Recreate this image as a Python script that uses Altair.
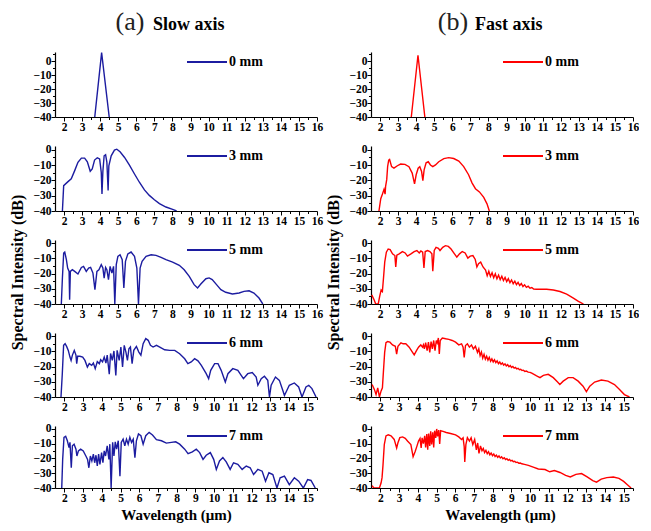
import altair as alt
import pandas as pd

BLUE = "#1c1ca0"
RED = "#ff0000"
FONT = "Liberation Serif"

# ---------------- data (wavelength um, intensity dB) ----------------
slow_0mm = [(3.7, -40), (4.08, 6), (4.5, -40)]
fast_0mm = [(3.73, -40), (4.1, 4.2), (4.48, -40)]

slow_3mm = [(1.91, -40), (1.98, -23.4), (2.22, -20.8), (2.4, -19), (2.59, -13.6), (2.77, -8.2),
            (2.96, -5.4), (3.14, -5.4), (3.29, -7.8), (3.45, -14), (3.56, -12.5), (3.69, -6.7),
            (3.84, -5.2), (3.97, -6), (4.06, -14.7), (4.1, -28.8), (4.15, -14), (4.22, -3.9),
            (4.3, -3.2), (4.37, -8), (4.44, -26.6), (4.48, -10.4), (4.61, -3.9), (4.79, -0.2),
            (4.92, 0.4), (5.1, -1.3), (5.35, -5), (5.62, -10), (5.9, -15.8), (6.17, -21.2),
            (6.45, -26.2), (6.72, -29.8), (7.0, -32.6), (7.28, -35.2), (7.64, -37.4), (8.01, -38.9),
            (8.23, -40)]

fast_3mm = [(1.94, -40), (2.04, -32), (2.13, -29), (2.22, -25.8), (2.28, -29), (2.31, -23.7),
            (2.37, -19.5), (2.42, -11), (2.48, -6.8), (2.53, -6.3), (2.64, -11), (2.77, -12),
            (2.96, -10.4), (3.14, -9.3), (3.38, -9.5), (3.6, -11), (3.78, -15.2), (3.91, -22.2),
            (4.0, -16.3), (4.11, -12), (4.2, -11), (4.3, -14.2), (4.37, -20.1), (4.44, -13.1),
            (4.55, -8.5), (4.67, -7.8), (4.79, -9.9), (4.92, -11), (5.07, -9.9), (5.25, -7.8),
            (5.53, -5.7), (5.8, -5.1), (6.08, -5.7), (6.36, -7.4), (6.63, -11), (6.9, -16.3),
            (7.09, -21.6), (7.28, -25.4), (7.5, -27.5), (7.74, -31.1), (7.92, -35.3), (8.05, -40)]

slow_5mm = [(1.85, -40), (1.91, -22.9), (1.98, -6.6), (2.04, -5.9), (2.13, -10.9), (2.2, -16.4),
            (2.28, -18.6), (2.31, -37.2), (2.35, -18.6), (2.46, -17.5), (2.59, -18.6), (2.77, -20.3),
            (2.96, -16), (3.08, -15.3), (3.23, -18.6), (3.36, -16.4), (3.47, -16), (3.6, -19.7),
            (3.71, -30.6), (3.82, -18.6), (3.93, -17.5), (4.06, -14.2), (4.15, -16.4), (4.22, -23),
            (4.3, -16), (4.37, -17.5), (4.46, -24), (4.55, -15.3), (4.65, -19.7), (4.74, -15.3),
            (4.81, -40), (4.89, -14.2), (4.98, -8.7), (5.1, -7.7), (5.22, -10.9), (5.31, -29.5),
            (5.4, -12), (5.53, -7.2), (5.71, -5.9), (5.9, -8.7), (6.03, -16.4), (6.12, -40),
            (6.21, -16.4), (6.32, -12), (6.54, -8.7), (6.82, -7.7), (7.09, -8.1), (7.37, -9.4),
            (7.64, -10.9), (8.01, -12.5), (8.38, -14.6), (8.65, -17.5), (8.93, -21.9), (9.2, -27.3),
            (9.39, -29.5), (9.57, -26.9), (9.85, -23.4), (10.03, -22.9), (10.2, -24), (10.44, -27.3),
            (10.68, -30.6), (10.95, -32.3), (11.32, -33.4), (11.69, -32.8), (11.96, -31.7),
            (12.24, -31.3), (12.51, -32.8), (12.79, -36.1), (13.0, -40)]

fast_5mm = [(1.54, -34), (1.67, -37.2), (1.76, -40), (1.9, -40), (1.98, -35), (2.06, -30.8),
            (2.13, -31.8), (2.19, -23.2), (2.26, -12.5), (2.35, -6), (2.45, -3.9), (2.56, -4.3),
            (2.69, -7.1), (2.82, -8.2), (2.87, -15.7), (2.93, -8), (3.06, -7.1), (3.24, -5.6),
            (3.39, -6.5), (3.52, -8.6), (3.71, -7.1), (3.89, -5.6), (4.04, -4.9), (4.17, -6.5),
            (4.26, -5.2), (4.36, -6), (4.43, -16.3), (4.5, -5.6), (4.63, -4.9), (4.76, -5.6),
            (4.87, -7.1), (4.92, -18.5), (5.0, -4.9), (5.1, -2.8), (5.23, -3.4), (5.32, -4.9),
            (5.47, -2.8), (5.62, -1.7), (5.78, -2.2), (5.93, -3.9), (6.12, -7.1), (6.25, -9.2),
            (6.4, -7.1), (6.55, -5.6), (6.71, -6.5), (6.86, -9.9), (6.99, -8.6), (7.14, -8.2),
            (7.27, -10.8), (7.36, -15.7), (7.45, -13.5), (7.57, -12.5), (7.7, -15.7), (7.84, -17.8),
            (7.93, -21.5), (8.02, -18.5), (8.11, -22.0), (8.2, -19.5), (8.29, -22.8), (8.38, -20.2),
            (8.47, -23.5), (8.56, -21.0), (8.65, -24.0), (8.74, -21.8), (8.83, -24.6), (8.92, -22.6),
            (9.01, -25.3), (9.1, -23.4), (9.19, -26.0), (9.28, -24.2), (9.37, -26.7), (9.46, -25.0),
            (9.55, -27.3), (9.64, -25.8), (9.73, -27.9), (9.82, -26.6), (9.91, -28.5), (10.0, -27.4),
            (10.1, -29.1), (10.2, -28.3), (10.3, -29.6), (10.4, -29.2), (10.5, -30.2), (10.65, -30.3),
            (10.85, -30.3), (11.22, -30.3), (11.59, -30.8), (11.96, -31.8), (12.33, -33.5),
            (12.7, -36.1), (12.98, -38.3), (13.26, -40)]

slow_6mm = [(1.82, -40), (1.89, -24.7), (1.96, -6.1), (2.04, -5), (2.12, -6.8), (2.21, -9.4),
            (2.3, -13.8), (2.36, -16), (2.43, -12.5), (2.53, -9.4), (2.62, -12.5), (2.66, -18.1),
            (2.71, -13.3), (2.83, -13.3), (2.98, -13.8), (3.1, -16), (3.23, -20.3), (3.33, -18.1),
            (3.46, -19.2), (3.55, -17.7), (3.65, -21.4), (3.76, -16.8), (3.87, -18.1), (3.94, -15.5),
            (4.04, -17), (4.13, -13.8), (4.22, -17.7), (4.29, -12.5), (4.4, -25.1), (4.47, -11.4),
            (4.56, -16), (4.65, -9.8), (4.75, -25.8), (4.82, -9.4), (4.93, -16), (5.02, -7.2),
            (5.11, -20.3), (5.2, -6.1), (5.29, -10.5), (5.37, -16), (5.45, -8.3), (5.53, -7.2),
            (5.62, -18.1), (5.71, -9.4), (5.85, -6.8), (5.98, -10.5), (6.09, -12.5), (6.21, -5),
            (6.35, -1.7), (6.48, -2.8), (6.6, -6.1), (6.74, -7.2), (6.92, -6.1), (7.1, -7.2),
            (7.36, -9), (7.63, -9.4), (7.9, -9.4), (8.16, -11.6), (8.43, -14.9), (8.6, -18.1),
            (8.78, -17), (8.96, -14.9), (9.14, -16.3), (9.32, -19.2), (9.58, -24.7), (9.71, -28),
            (9.82, -22.5), (10.03, -18.1), (10.21, -18.1), (10.38, -22.5), (10.6, -30.2),
            (10.74, -24.7), (11.0, -21.4), (11.27, -22.5), (11.45, -25.8), (11.57, -28),
            (11.8, -24.7), (12.04, -24), (12.25, -26.9), (12.34, -32.3), (12.52, -28), (12.69, -26.4),
            (12.87, -29.1), (12.96, -40), (13.05, -32.3), (13.28, -26.9), (13.49, -29.1),
            (13.67, -35.6), (13.76, -39), (14.02, -32.3), (14.29, -30.8), (14.52, -33.4),
            (14.7, -40), (14.91, -33.4), (15.06, -32.3), (15.23, -34.5), (15.45, -40)]

fast_6mm = [(1.56, -31.8), (1.68, -35), (1.77, -38.4), (1.86, -34), (1.95, -40), (2.04, -36),
            (2.11, -34), (2.16, -24), (2.23, -10.7), (2.3, -4.4), (2.39, -3.6), (2.51, -4),
            (2.65, -5.8), (2.8, -6.7), (2.87, -11.8), (2.94, -6.7), (3.1, -4.4), (3.22, -5.1),
            (3.36, -5.1), (3.54, -7.3), (3.72, -10.7), (3.81, -12.4), (3.93, -9.6), (4.04, -7.3),
            (4.16, -5.8), (4.25, -7.3), (4.3, -5.8), (4.35, -8.4), (4.42, -4.4), (4.5, -9.6),
            (4.57, -4), (4.64, -10.7), (4.71, -3.6), (4.78, -8.4), (4.85, -2.9), (4.92, -9.6),
            (4.99, -2.9), (5.04, -4.5), (5.1, -1.3), (5.15, -11.8), (5.2, -2.9), (5.31, -1.3),
            (5.49, -1.8), (5.66, -2.2), (5.84, -2.9), (6.02, -4), (6.19, -5.8), (6.34, -5.1),
            (6.42, -7.3), (6.48, -14), (6.55, -6.2), (6.65, -5.1), (6.76, -7.3), (6.87, -5.8),
            (6.97, -8.4), (7.08, -6.7), (7.19, -10.7), (7.26, -8.4), (7.33, -12.9), (7.4, -10.5),
            (7.47, -14.5), (7.54, -12.0), (7.61, -15.2), (7.68, -13.2), (7.75, -15.8), (7.82, -14.0),
            (7.89, -16.5), (7.96, -15.0), (8.03, -17.0), (8.1, -15.6), (8.17, -17.5), (8.24, -16.3),
            (8.31, -18.1), (8.38, -17.0), (8.45, -18.6), (8.52, -17.6), (8.59, -19.1), (8.66, -18.2),
            (8.73, -19.6), (8.8, -18.8), (8.87, -20.1), (8.94, -19.4), (9.01, -20.6), (9.08, -20.0),
            (9.15, -21.1), (9.22, -20.6), (9.29, -21.6), (9.36, -21.2), (9.43, -22.1), (9.5, -21.8),
            (9.57, -22.6), (9.64, -22.4), (9.72, -23.2), (9.8, -23.0), (9.9, -23.7), (10.0, -23.8),
            (10.09, -24.4), (10.35, -26.2), (10.53, -27.3), (10.71, -25.8), (10.97, -25.1),
            (11.24, -27.3), (11.47, -30.2), (11.59, -31.8), (11.77, -29.6), (12.04, -27.3),
            (12.3, -27.3), (12.57, -29.6), (12.83, -32.9), (13.01, -36.5), (13.19, -32.9),
            (13.45, -30.2), (13.81, -28.9), (14.16, -29.6), (14.51, -31.8), (14.78, -35.1),
            (15.04, -38.4), (15.31, -40)]

slow_7mm = [(1.86, -40), (1.91, -20.6), (1.98, -5.7), (2.07, -5), (2.16, -8), (2.25, -12.6),
            (2.3, -9.1), (2.37, -26.3), (2.43, -11.4), (2.52, -10.3), (2.62, -13.7), (2.67, -18.3),
            (2.75, -14.9), (2.87, -13.7), (3.01, -14.9), (3.15, -18.3), (3.24, -20.6), (3.31, -26.3),
            (3.39, -18.3), (3.47, -21.7), (3.55, -17.1), (3.62, -22.9), (3.69, -17.8), (3.76, -25.1),
            (3.83, -17.1), (3.9, -24), (3.99, -16), (4.06, -22.9), (4.13, -14.9), (4.2, -18.3),
            (4.29, -11.4), (4.38, -20.6), (4.43, -10.3), (4.5, -40), (4.58, -9.1), (4.65, -18.3),
            (4.72, -8.7), (4.79, -13.7), (4.88, -8), (4.97, -32), (5.04, -9.1), (5.14, -6.9),
            (5.23, -11.4), (5.32, -6.9), (5.41, -10.3), (5.5, -5.7), (5.59, -9.1), (5.68, -6.9),
            (5.77, -19.4), (5.85, -8), (5.96, -3.4), (6.09, -4.6), (6.21, -10.3), (6.35, -4.6),
            (6.53, -2.3), (6.71, -4.1), (6.92, -7.3), (7.19, -8), (7.45, -9.6), (7.72, -9.1),
            (7.95, -8.7), (8.16, -10.3), (8.43, -13.7), (8.61, -16.7), (8.84, -15.5), (9.05, -13.7),
            (9.23, -16), (9.41, -20.6), (9.58, -17.8), (9.8, -16), (9.98, -20.6), (10.12, -27.4),
            (10.29, -21.7), (10.47, -19.4), (10.65, -22.3), (10.86, -27.4), (11.04, -22.9),
            (11.27, -24), (11.5, -27.4), (11.72, -25.1), (11.93, -26.3), (12.11, -30.9),
            (12.34, -27.4), (12.57, -28.6), (12.75, -35.4), (12.93, -29.7), (13.14, -30.9),
            (13.36, -40), (13.53, -33.1), (13.76, -32), (14.02, -37.7), (14.29, -33.1),
            (14.52, -35.4), (14.77, -40), (15.0, -34.3), (15.18, -34.9), (15.41, -40)]

fast_7mm = [(1.56, -38.4), (1.65, -40), (1.95, -40), (2.04, -36.5), (2.09, -33), (2.14, -24.7),
            (2.21, -10.6), (2.3, -4.7), (2.42, -4), (2.57, -4.7), (2.74, -7.1), (2.87, -12.9),
            (2.94, -9.4), (3.04, -5.9), (3.19, -5.4), (3.33, -6.4), (3.45, -8.2), (3.63, -10.6),
            (3.75, -18.8), (3.86, -15.3), (3.95, -11.8), (4.04, -8.2), (4.12, -6.4), (4.18, -12.9),
            (4.23, -6), (4.3, -10), (4.37, -4.7), (4.42, -12.5), (4.48, -3.5), (4.53, -14.1),
            (4.58, -3.1), (4.64, -11.5), (4.69, -1.6), (4.74, -10.5), (4.8, -2.2), (4.85, -12.5),
            (4.9, -1.2), (4.96, -6), (5.01, 0), (5.06, -5), (5.12, -0.8), (5.17, -10.1), (5.22, -1.2),
            (5.35, -1.6), (5.52, -2.4), (5.75, -3.1), (6.02, -4), (6.19, -5.4), (6.34, -7.1),
            (6.42, -6), (6.48, -12), (6.51, -22.4), (6.57, -10.6), (6.65, -5.9), (6.76, -8.2),
            (6.85, -6), (6.94, -10.6), (7.04, -7.1), (7.13, -14.1), (7.2, -9.5), (7.27, -16.5),
            (7.35, -11.5), (7.43, -14.8), (7.5, -13.2), (7.57, -16.0), (7.64, -14.5), (7.71, -16.8),
            (7.78, -15.4), (7.85, -17.5), (7.92, -16.3), (7.99, -18.1), (8.06, -17.0), (8.13, -18.7),
            (8.2, -17.7), (8.27, -19.2), (8.34, -18.3), (8.41, -19.7), (8.48, -18.9), (8.55, -20.2),
            (8.62, -19.5), (8.69, -20.7), (8.76, -20.1), (8.83, -21.2), (8.9, -20.7), (8.97, -21.7),
            (9.04, -21.3), (9.11, -22.2), (9.18, -21.9), (9.25, -22.7), (9.32, -22.5), (9.4, -23.2),
            (9.48, -23.1), (9.56, -23.6), (9.7, -24.0), (9.91, -24.7), (10.17, -25.9), (10.44, -27.1),
            (10.8, -27.5), (11.05, -29), (11.3, -28.2), (11.6, -29.5), (11.9, -31.5), (12.15, -32.5),
            (12.45, -30.8), (12.75, -30.2), (13.05, -32.5), (13.35, -35), (13.55, -36), (13.8, -34),
            (14.1, -33), (14.45, -32.6), (14.75, -33.5), (15.0, -35.5), (15.2, -37.8), (15.4, -40)]

labels = ["0 mm", "3 mm", "5 mm", "6 mm", "7 mm"]
slow_series = [slow_0mm, slow_3mm, slow_5mm, slow_6mm, slow_7mm]
fast_series = [fast_0mm, fast_3mm, fast_5mm, fast_6mm, fast_7mm]
x_max = [16, 16, 16, 15.5, 15.5]
x_major = [list(range(2, 17)), list(range(2, 17)), list(range(2, 17)),
           list(range(2, 16)), list(range(2, 16))]
y_top = [6.5, 2.5, 2.0, 2.0, 2.0]
heights = [65, 65, 64, 64, 62]
headers = [("(a)", "Slow axis"), ("(b)", "Fast axis")]
y_title = "Spectral Intensity (dB)"
x_title = "Wavelength (μm)"

PANEL_W = 262


def panel(pairs, color, label, xmax, xmajor, ytop, h, xtitle=False, ytitle=False, head=None,
          head_x=(74, 97), xtitle_x=121):
    df = pd.DataFrame(pairs, columns=["x", "y"])
    xvals = sorted(xmajor + [v + 0.5 for v in xmajor if v + 0.5 <= xmax])
    yvals = [v for v in range(-40, 10, 5) if v <= ytop]
    xaxis_kw = dict(
        values=xvals,
        labelExpr="datum.value % 1 == 0 ? format(datum.value, 'd') : ''",
        tickSize={"condition": {"test": "datum.value % 1 != 0", "value": 2.5}, "value": 4},
        labelOverlap=False, labelFlush=False,
    )
    if xtitle:
        xaxis_kw.update(title=x_title, titlePadding=4, titleFontSize=15, titleX=xtitle_x,
                        titleAnchor="start", titleAlign="center")
    else:
        xaxis_kw.update(title=None)
    yaxis_kw = dict(
        values=yvals,
        labelExpr="datum.value % 10 == 0 ? format(datum.value, 'd') : ''",
        tickSize={"condition": {"test": "datum.value % 10 != 0", "value": 2.5}, "value": 4},
        labelOverlap=False, labelFlush=False,
    )
    if ytitle:
        yaxis_kw.update(title=y_title, titlePadding=7, titleFontSize=16)
    else:
        yaxis_kw.update(title=None)

    line = alt.Chart(df).mark_line(color=color, strokeWidth=1.4, clip=True).encode(
        x=alt.X("x:Q", scale=alt.Scale(domain=[1.5, xmax], nice=False, zero=False),
                axis=alt.Axis(**xaxis_kw)),
        y=alt.Y("y:Q", scale=alt.Scale(domain=[-40, ytop], nice=False, zero=False),
                axis=alt.Axis(**yaxis_kw)),
    )
    leg = pd.DataFrame({"t": [label]})
    rule = alt.Chart(leg).mark_rule(color=color, strokeWidth=2).encode(
        x=alt.value(132), x2=alt.value(172), y=alt.value(10))
    txt = alt.Chart(leg).mark_text(align="left", baseline="middle", font=FONT,
                                   fontWeight="bold", fontSize=14, color="black").encode(
        x=alt.value(174), y=alt.value(10), text="t:N")
    layers = [line, rule, txt]
    if head:
        hd = pd.DataFrame({"a": [head[0]], "b": [head[1]]})
        t1 = alt.Chart(hd).mark_text(align="center", baseline="alphabetic", font=FONT,
                                     fontSize=26, color="#222222").encode(
            x=alt.value(head_x[0]), y=alt.value(-22), text="a:N")
        t2 = alt.Chart(hd).mark_text(align="left", baseline="alphabetic", font=FONT,
                                     fontWeight="bold", fontSize=18, color="black").encode(
            x=alt.value(head_x[1]), y=alt.value(-22), text="b:N")
        layers += [t1, t2]
    return alt.layer(*layers).properties(width=PANEL_W, height=h)


left_panels = []
right_panels = []
for i in range(5):
    left_panels.append(panel(slow_series[i], BLUE, labels[i], x_max[i], x_major[i], y_top[i],
                             heights[i], xtitle=(i == 4), ytitle=(i == 2),
                             head=headers[0] if i == 0 else None, head_x=(75, 98),
                             xtitle_x=121))
    right_panels.append(panel(fast_series[i], RED, labels[i], x_max[i], x_major[i], y_top[i],
                              heights[i], xtitle=(i == 4), ytitle=(i == 2),
                              head=headers[1] if i == 0 else None, head_x=(82, 104),
                              xtitle_x=129))

left = alt.vconcat(*left_panels, spacing=29, bounds="flush")
right = alt.vconcat(*right_panels, spacing=29, bounds="flush")

chart = alt.hconcat(left, right, spacing=2).properties(
    padding={"left": 1, "top": 1, "right": 0, "bottom": 0}
).configure_view(stroke=None).configure_axis(
    grid=False, domainColor="black", tickColor="black", domainWidth=1.2, tickWidth=1,
    labelFont=FONT, labelFontWeight="bold", labelFontSize=11.5, labelColor="black",
    labelPadding=0, titleFont=FONT, titleFontWeight="bold", titleColor="black",
)

chart.save("out.html", embed_options={"renderer": "svg", "actions": False})
